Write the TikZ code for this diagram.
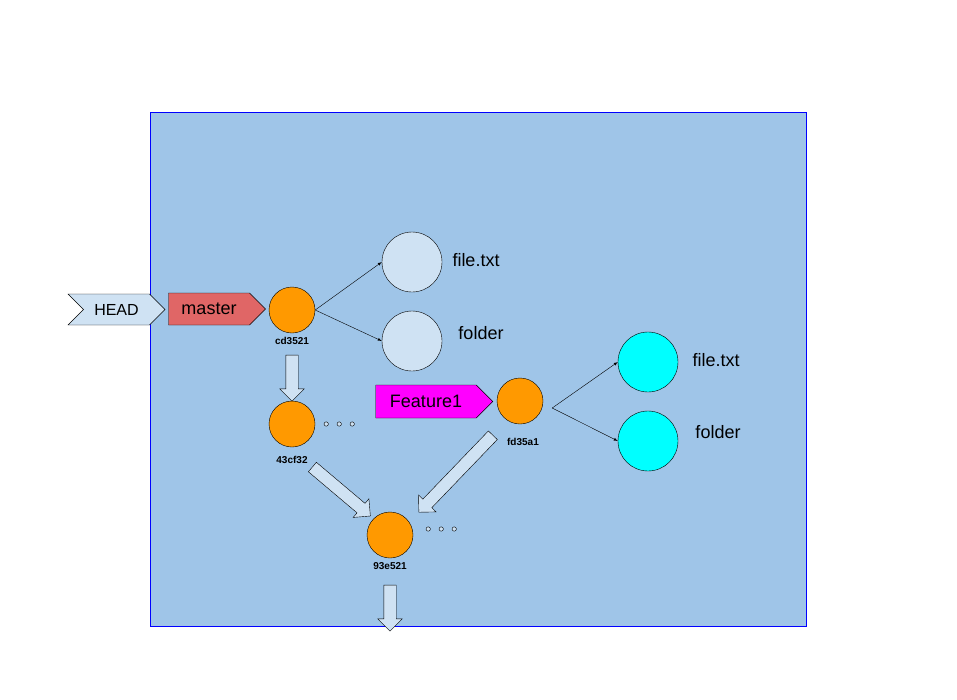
\documentclass[tikz,border=0pt]{standalone}
\usepackage{fontspec}
\setmainfont{Liberation Sans}
\usetikzlibrary{shapes.symbols,shapes.arrows,calc}
\definecolor{bgblue}{HTML}{9FC5E8}
\definecolor{paleblue}{HTML}{CFE2F3}
\definecolor{mastred}{HTML}{E06666}
\definecolor{commitorange}{HTML}{FF9900}
\definecolor{blobcyan}{HTML}{00FFFF}
\definecolor{featmagenta}{HTML}{FF00FF}
\newcommand{\bigarrow}[2]{%
  \path let \p1=($(#2)-(#1)$), \n1={atan2(\y1,\x1)}, \n2={veclen(\x1,\y1)} in
    node[blockarr,minimum height=\n2,rotate=\n1] at ($(#1)!0.5!(#2)$) {};}
\begin{document}
\begin{tikzpicture}[x=1pt,y=-1pt]
  \tikzset{commit/.style={circle,draw,fill=commitorange,minimum size=46pt,inner sep=0pt},
    tree/.style={circle,draw,fill=paleblue,minimum size=60pt,inner sep=0pt},
    blob/.style={circle,draw,fill=blobcyan,minimum size=60pt,inner sep=0pt},
    tag/.style={signal,signal to=east,signal pointer angle=90,draw,
      font=\fontsize{18}{20}\selectfont,minimum height=32pt},
    hash/.style={font=\fontsize{10}{12}\selectfont\bfseries},
    fname/.style={font=\fontsize{18}{20}\selectfont},
    blockarr/.style={single arrow,draw,fill=paleblue,inner sep=0pt,inner ysep=6pt,
      single arrow head extend=6pt}}
  \useasboundingbox (0,0) rectangle (957,699);
  \draw[blue,fill=bgblue] (150,112) rectangle (806,626);

  \node[tag,signal from=west,fill=paleblue,minimum width=97pt,minimum height=31pt,
    font=\fontsize{16}{18}\selectfont] (head) at (116.5,309.5) {HEAD};
  \node[tag,fill=mastred,minimum width=97pt] (master) at (209,309) {master};
  \node[tag,fill=featmagenta,minimum width=117pt,minimum height=33pt] (feat) at (426,401.5) {Feature1};

  \node[commit,label={[hash,label distance=1pt]below:cd3521}] (cd) at (292,310) {};
  \node[commit,label={[hash,label distance=6pt]below:43cf32}] (c43) at (292,424) {};
  \node[commit,label={[hash,label distance=1pt]below:93e521}] (c93) at (390,535) {};
  \node[commit] (fd) at (520,401) {};
  \node[hash] at (523,442) {fd35a1};

  \node[tree] (file1) at (412,262) {};
  \node[tree] (dir1) at (412,341) {};
  \node[fname] at (476,260) {file.txt};%file of cd3521
  \node[fname] at (481,333) {folder};
  \node[blob] (file2) at (648,362) {};
  \node[blob] (dir2) at (648,441) {};
  \node[fname] at (716,360) {file.txt};%file of fd35a1
  \node[fname] at (718,432) {folder};

  \draw[->,>=latex] (cd.east) -- (file1.west);
  \draw[->,>=latex] (cd.east) -- (dir1.west);
  \coordinate (fdout) at ([xshift=9pt,yshift=-7pt]fd.east);
  \draw[->,>=latex] (fdout) -- (file2.west);
  \draw[->,>=latex] (fdout) -- (dir2.west);

  % more commits
  \foreach \dx in {0,13,26} {
    \draw[fill=paleblue] ([xshift=\dx pt+11pt]c43.east) circle (2.2pt);
    \draw[fill=paleblue] ([xshift=\dx pt+15pt,yshift=6pt]c93.east) circle (2.2pt);
  }

  \coordinate (a1s) at (292,352); \coordinate (a1e) at (292,398);
  \coordinate (a2s) at (310,465); \coordinate (a2e) at (368,514);
  \coordinate (a3s) at (495,433); \coordinate (a3e) at (421,510);
  \coordinate (a4s) at (390,582); \coordinate (a4e) at (390,628);
  \bigarrow{a1s}{a1e}
  \bigarrow{a2s}{a2e}
  \bigarrow{a3s}{a3e}
  \bigarrow{a4s}{a4e}
\end{tikzpicture}
\end{document}
